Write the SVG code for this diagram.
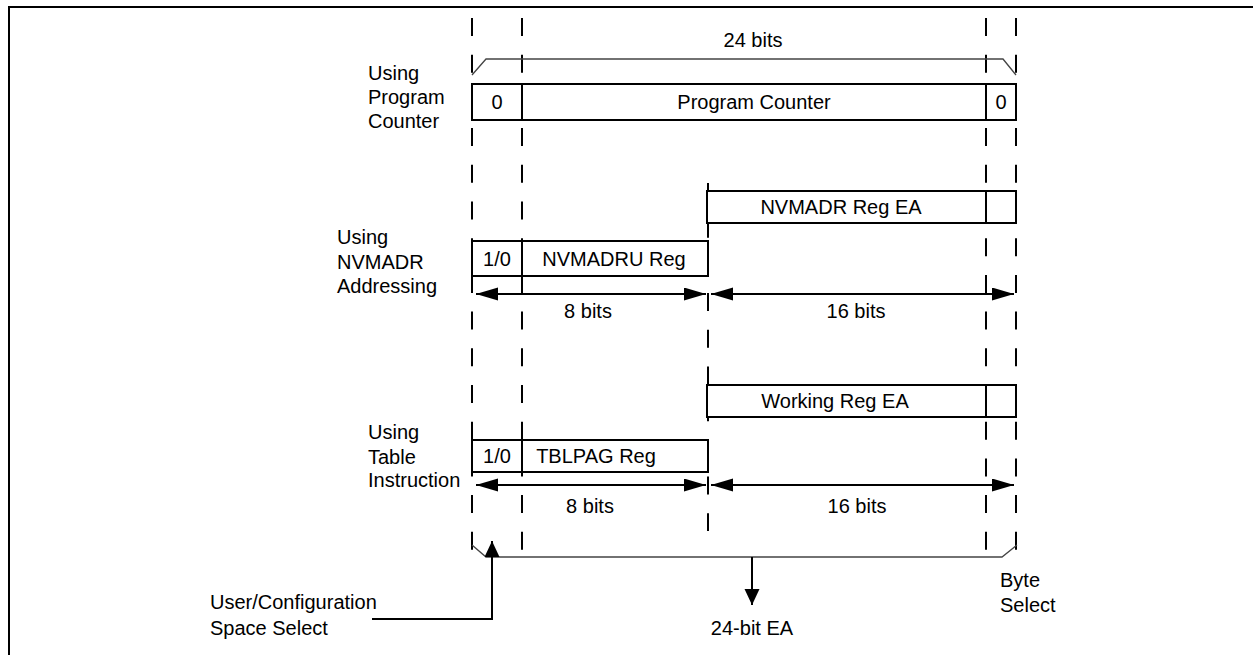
<svg xmlns="http://www.w3.org/2000/svg" width="1253" height="655" viewBox="0 0 1253 655">
<style>
text{font-family:"Liberation Sans",Arial,sans-serif;font-size:20px;fill:#000}
.c{text-anchor:middle}
.box{fill:#fff;stroke:#000;stroke-width:2}
.div{stroke:#000;stroke-width:2}
.dash{stroke:#000;stroke-width:2;stroke-dasharray:18 18.7;fill:none}
.br{stroke:#444;stroke-width:1.3;fill:none}
.arr{stroke:#000;stroke-width:2;fill:none}
</style>
<defs>
<marker id="ah" markerUnits="userSpaceOnUse" markerWidth="24" markerHeight="14" refX="22" refY="6.5" orient="auto-start-reverse">
<path d="M0,0 L22,6.5 L0,13 z" fill="#000"/>
</marker>
<marker id="ah2" markerUnits="userSpaceOnUse" markerWidth="18" markerHeight="16" refX="16" refY="7.5" orient="auto">
<path d="M0,0 L16,7.5 L0,15 z" fill="#000"/>
</marker>
</defs>
<rect width="1253" height="655" fill="#fff"/>
<g id="frame">
<line x1="8" y1="7" x2="1253" y2="7" stroke="#000" stroke-width="2"/>
<line x1="9" y1="6" x2="9" y2="655" stroke="#000" stroke-width="2"/>
</g>
<g id="guides">
<line class="dash" x1="472" y1="18" x2="472" y2="551"/>
<line class="dash" x1="522" y1="18" x2="522" y2="551"/>
<line class="dash" x1="986" y1="18" x2="986" y2="551"/>
<line class="dash" x1="1016" y1="18" x2="1016" y2="551"/>
<line class="dash" x1="708" y1="183" x2="708" y2="531"/>
</g>
<g id="bracket-top">
<polyline class="br" points="472,75 486,59 1003,59 1016,75"/>
<text class="c" x="753" y="47">24 bits</text>
</g>
<g id="label-pc">
<text x="368" y="80">Using</text>
<text x="368" y="104">Program</text>
<text x="368" y="128">Counter</text>
</g>
<g id="pc-box">
<rect class="box" x="472" y="84" width="544" height="36"/>
<line class="div" x1="522" y1="84" x2="522" y2="120"/>
<line class="div" x1="986" y1="84" x2="986" y2="120"/>
<text class="c" x="497" y="109">0</text>
<text class="c" x="754" y="109">Program Counter</text>
<text class="c" x="1001" y="109">0</text>
</g>
<g id="nvmadr-ea-box">
<rect class="box" x="707" y="191" width="309" height="32"/>
<line class="div" x1="986" y1="191" x2="986" y2="223"/>
<text class="c" x="841" y="214">NVMADR Reg EA</text>
</g>
<g id="label-nvmadr">
<text x="337" y="244">Using</text>
<text x="337" y="269">NVMADR</text>
<text x="337" y="293">Addressing</text>
</g>
<g id="nvmadru-box">
<rect class="box" x="472" y="241" width="236" height="35"/>
<line class="div" x1="522" y1="241" x2="522" y2="276"/>
<text class="c" x="497" y="266">1/0</text>
<text class="c" x="614" y="266">NVMADRU Reg</text>
</g>
<g id="working-ea-box">
<rect class="box" x="707" y="385" width="309" height="32"/>
<line class="div" x1="986" y1="385" x2="986" y2="417"/>
<text class="c" x="835" y="408">Working Reg EA</text>
</g>
<g id="label-table">
<text x="368" y="439">Using</text>
<text x="368" y="464">Table</text>
<text x="368" y="487">Instruction</text>
</g>
<g id="tblpag-box">
<rect class="box" x="472" y="440" width="236" height="32"/>
<line class="div" x1="522" y1="440" x2="522" y2="472"/>
<text class="c" x="497" y="463">1/0</text>
<text class="c" x="596" y="463">TBLPAG Reg</text>
</g>
<g id="width-labels">
<text class="c" x="588" y="318">8 bits</text>
<text class="c" x="856" y="318">16 bits</text>
<text class="c" x="590" y="513">8 bits</text>
<text class="c" x="857" y="513">16 bits</text>
</g>
<g id="bracket-bottom">
<polyline class="br" points="472,545 486,557 1002,557 1017,545"/>
</g>
<g id="connectors">
<line class="arr" x1="476" y1="294" x2="706" y2="294" marker-start="url(#ah)" marker-end="url(#ah)"/>
<line class="arr" x1="711" y1="294" x2="1014" y2="294" marker-start="url(#ah)" marker-end="url(#ah)"/>
<line class="arr" x1="476" y1="485" x2="706" y2="485" marker-start="url(#ah)" marker-end="url(#ah)"/>
<line class="arr" x1="711" y1="485" x2="1014" y2="485" marker-start="url(#ah)" marker-end="url(#ah)"/>
<line class="arr" x1="752" y1="557" x2="752" y2="605" marker-end="url(#ah2)"/>
<polyline class="arr" points="372,619 492,619 492,541" marker-end="url(#ah2)"/>
</g>
<g id="label-ea">
<text class="c" x="752" y="635">24-bit EA</text>
</g>
<g id="label-byte">
<text x="1000" y="587">Byte</text>
<text x="1000" y="612">Select</text>
</g>
<g id="label-user">
<text x="210" y="609">User/Configuration</text>
<text x="210" y="635">Space Select</text>
</g>
</svg>
